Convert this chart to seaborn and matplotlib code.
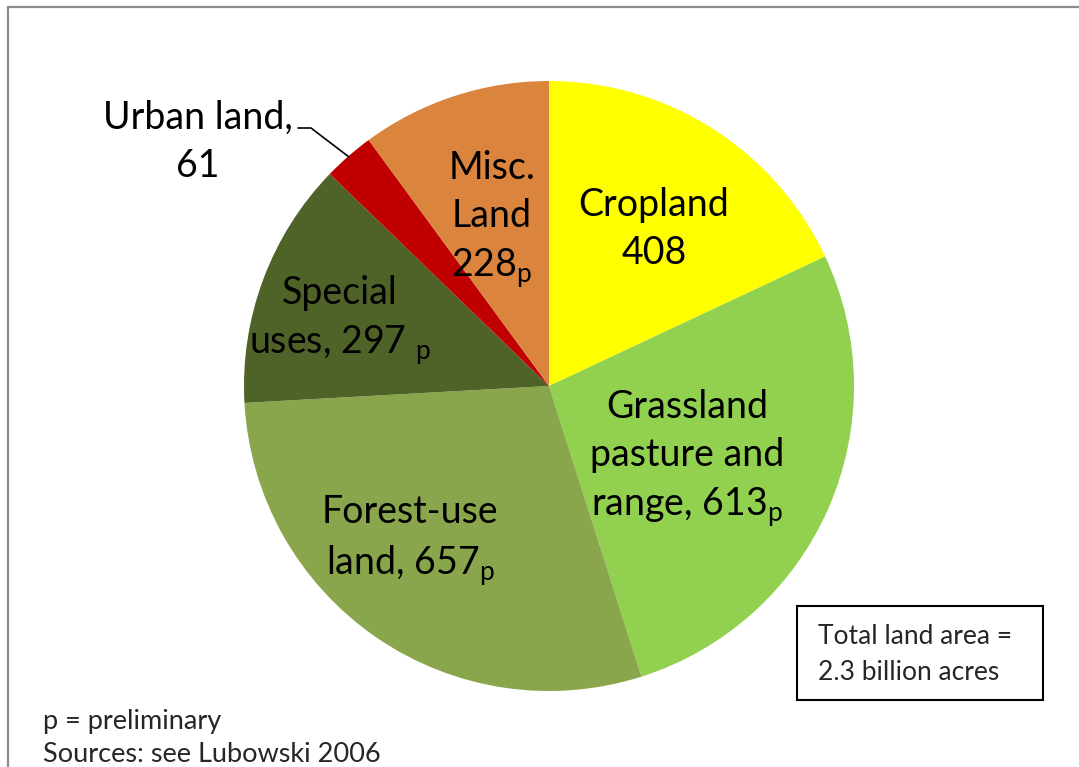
import matplotlib
matplotlib.use("Agg")
import matplotlib.pyplot as plt
from matplotlib.patches import Rectangle
import seaborn as sns

categories = ["Cropland", "Grassland pasture and range", "Forest-use land",
              "Special uses", "Urban land", "Misc. Land"]
acres = [408, 613, 657, 297, 61, 228]
colors = ["#FFFF00", "#92D050", "#8AA64C", "#4F6228", "#C00000", "#DA843E"]

sns.set_style("white")
plt.rcParams["font.family"] = ["Lato", "DejaVu Sans"]
plt.rcParams["mathtext.fontset"] = "custom"
plt.rcParams["mathtext.rm"] = "Lato"
plt.rcParams["mathtext.it"] = "Lato"

W, H = 1079, 767
cx, cy, r = 549, 386, 305
fig = plt.figure(figsize=(W / 100, H / 100), dpi=100)
ax = fig.add_axes([(cx - r) / W, (H - cy - r) / H, 2 * r / W, 2 * r / H])

ax.pie(acres, colors=colors, startangle=90, counterclock=False,
       wedgeprops=dict(linewidth=0), radius=1)
ax.set_xlim(-1, 1)
ax.set_ylim(-1, 1)
ax.set_aspect("equal")
ax.axis("off")


def d(px, py):
    return (px - cx) / r, (cy - py) / r


fs = 27
p = r"$_{\mathrm{p}}$"
labels = [
    ("Cropland\n408", 654, 229),
    ("Grassland\npasture and\nrange, 613" + p, 687, 459),
    ("Forest-use\nland, 657" + p, 410, 541),
    ("Special\nuses, 297 " + p, 340, 321),
    ("Misc.\nLand\n228" + p, 492, 220),
    ("Urban land,\n61", 198, 142),
]
for txt, px, py in labels:
    x, y = d(px, py)
    ax.text(x, y, txt, ha="center", va="center", fontsize=fs,
            linespacing=1.42, color="black")

# leader line for urban land
lx, ly = zip(d(298, 128), d(311, 128), d(349, 157))
ax.plot(lx, ly, color="black", lw=1.2, clip_on=False)

# total box
fig.patches.append(Rectangle((797 / W, 1 - 700 / H), 246 / W, 94 / H,
                             transform=fig.transFigure, fill=False,
                             ec="black", lw=1.5))
fig.text(818 / W, 1 - 637 / H, "Total land area =", fontsize=19,
         va="center", ha="left")
fig.text(818 / W, 1 - 673 / H, "2.3 billion acres", fontsize=19,
         va="center", ha="left")

# notes
fig.text(43 / W, 1 - 722 / H, "p = preliminary", fontsize=19.5,
         va="center", ha="left")
fig.text(43 / W, 1 - 755 / H, "Sources: see Lubowski 2006", fontsize=19.5,
         va="center", ha="left")

# outer frame
fig.patches.append(Rectangle((8 / W, -0.05), 1.1, 1.05 - 7 / H,
                             transform=fig.transFigure, fill=False,
                             ec="#8C8C8C", lw=1.6))

fig.savefig("out.png", dpi=100)
